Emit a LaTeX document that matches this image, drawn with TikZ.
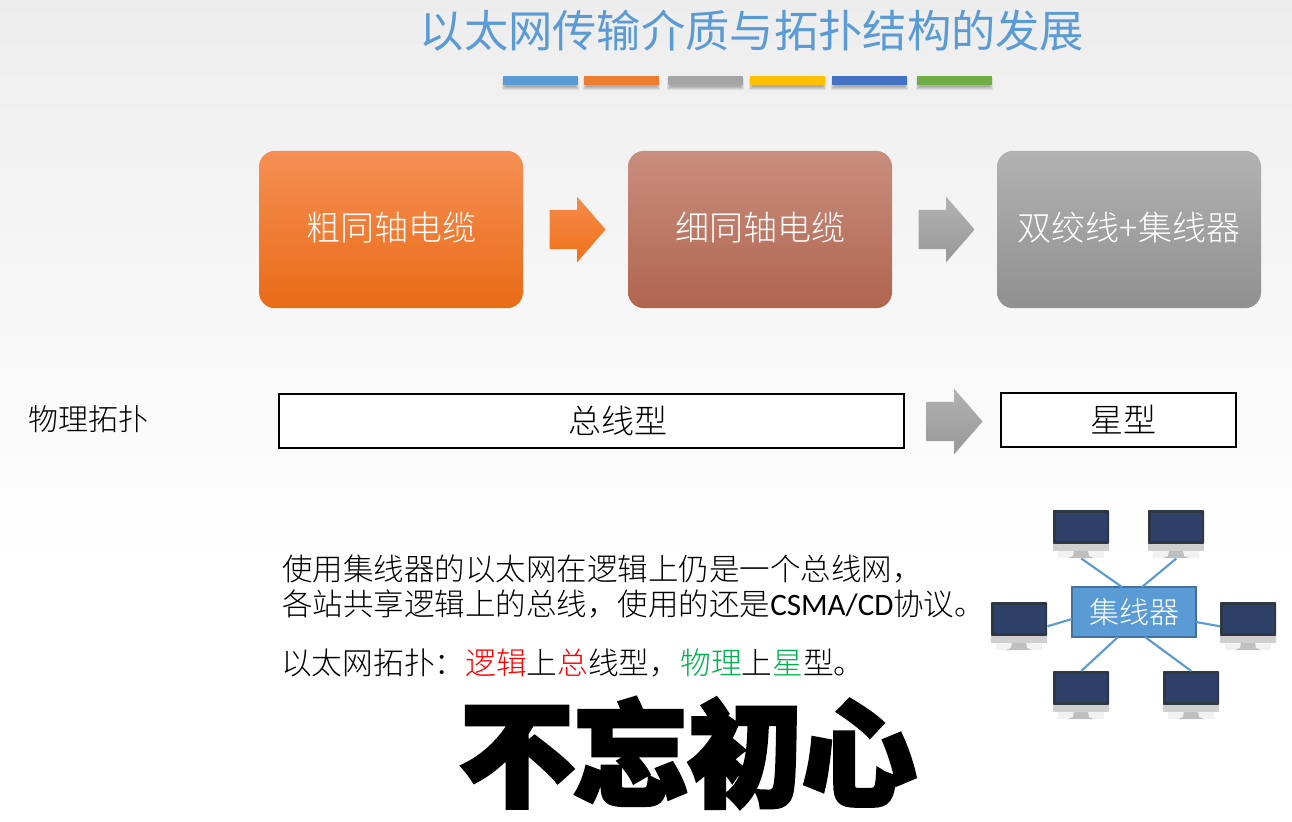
\documentclass[tikz,border=0pt]{standalone}
\usepackage{fontspec}
\usetikzlibrary{shapes.arrows}
\setmainfont{Carlito}
\newfontfamily\cjk{Noto Sans CJK SC Light}
\newfontfamily\cjkreg{Noto Sans CJK SC}
\newfontfamily\cjkblack{Noto Sans CJK SC Black}[FakeBold=4]
\newfontfamily\lat{Carlito}[Scale=1.02]
\newcommand{\px}[1]{\fontsize{\dimexpr#1pt*3/4\relax}{\dimexpr#1pt*9/10\relax}\selectfont}
\definecolor{titleblue}{HTML}{5B9BD5}
\definecolor{hubedge}{HTML}{41719C}
\definecolor{monframe}{HTML}{2F3742}
\definecolor{monscreen}{HTML}{2E4168}
\definecolor{barorange}{HTML}{ED7D31}
\definecolor{bargray}{HTML}{A5A5A5}
\definecolor{baryellow}{HTML}{FFC000}
\definecolor{barblue}{HTML}{4472C4}
\definecolor{bargreen}{HTML}{70AD47}
\definecolor{thicktop}{HTML}{F68F55}
\definecolor{thickbot}{HTML}{E96B15}
\definecolor{thintop}{HTML}{C98E7E}
\definecolor{thinbot}{HTML}{B0654F}
\definecolor{graytop}{HTML}{B2B2B2}
\definecolor{graybot}{HTML}{909090}
\definecolor{arrowtop}{HTML}{F58B4B}
\definecolor{arrowbot}{HTML}{EE7218}
\definecolor{arrowgtop}{HTML}{B2B2B2}
\definecolor{arrowgbot}{HTML}{989898}
\definecolor{textgreen}{HTML}{00B050}
\tikzset{
  x=0.75pt,y=-0.75pt,
  bigbox/.style={rounded corners=12pt,minimum width=198pt,minimum height=118pt,inner sep=0pt,text=white,font=\cjk\px{34}},
  outline/.style={draw=black,line width=1.5pt,fill=white,inner sep=0pt,font=\cjk\px{33}},
  blockarrow/.style={single arrow,draw=none,inner xsep=0pt,inner ysep=14.6pt,minimum width=48.75pt,minimum height=42pt,single arrow head extend=9.75pt,single arrow tip angle=98},
  bartop/.style={minimum width=56.25pt,minimum height=6.75pt,inner sep=0pt},
  barshadow/.style={fill=black,opacity=0.08},
  plain/.style={anchor=west,inner sep=0pt,font=\cjk\px{30.5}},
  hubline/.style={draw=titleblue,line width=1.6pt},
  monitornode/.style={minimum width=42pt,minimum height=36pt,inner sep=0pt}
}
\newcommand{\monitor}[3]{%
  \node[monitornode,anchor=north west] (#1) at (#2,#3) {};
  \fill[monframe,rounded corners=0.6pt] (#2,#3) rectangle ++(56,34);
  \fill[monscreen] (#2+2.5,#3+3) rectangle ++(51,28);
  \fill[black!19] (#2,#3+34) rectangle ++(56,7);
  \fill[black!5] (#2+5,#3+41) rectangle ++(46,7);
  \fill[black!25] (#2+21,#3+41) -- (#2+35,#3+41) -- (#2+36,#3+46) -- (#2+41,#3+48) -- (#2+15,#3+48) -- (#2+20,#3+46) -- cycle;
}
\newcommand{\colorbar}[3]{%
  \fill[barshadow] (#1-1,78) rectangle (#2+1,90);
  \fill[barshadow] (#1,79) rectangle (#2,89);
  \fill[barshadow] (#1+1,80) rectangle (#2-1,88);
  \fill[barshadow] (#1+2,81) rectangle (#2-2,87);
  \node[bartop,fill=#3,anchor=north west] (bar#1) at (#1,76) {};
}
\begin{document}
\begin{tikzpicture}
\useasboundingbox (0,0) rectangle (1292,821);
\fill[white] (0,0) rectangle (1292,821);
\shade[top color=black!7,bottom color=white] (0,0) rectangle (1292,570);

\node[inner sep=0pt,text=titleblue,font=\cjkreg\px{44.3}] (title) at (752,31) {以太网传输介质与拓扑结构的发展};
\colorbar{503}{578}{titleblue}
\colorbar{584}{659}{barorange}
\colorbar{668}{743}{bargray}
\colorbar{750}{825}{baryellow}
\colorbar{832}{907}{barblue}
\colorbar{917}{992}{bargreen}

\node[bigbox,top color=thicktop,bottom color=thickbot] (thick) at (391,229.5) {\raisebox{4.5pt}{粗同轴电缆}};
\node[bigbox,top color=thintop,bottom color=thinbot] (thin) at (760,229.5) {\raisebox{4.5pt}{细同轴电缆}};
\node[bigbox,top color=graytop,bottom color=graybot] (twisted) at (1129,229.5) {\raisebox{4.5pt}{双绞线+集线器}};
\node[blockarrow,top color=arrowtop,bottom color=arrowbot] (a1) at (569,229.5) {};
\node[blockarrow,top color=arrowgtop,bottom color=arrowgbot] (a2) at (938,229.5) {};

\node[plain,font=\cjk\px{30}] (phys) at (28,419) {物理拓扑};
\node[outline,minimum width=468.75pt,minimum height=40.5pt] (bus) at (591,421) {\hspace*{40.5pt}总线型};
\node[outline,minimum width=176.25pt,minimum height=40.5pt] (star) at (1118,420) {\hspace*{7.5pt}星型};
\node[blockarrow,top color=arrowgtop,bottom color=arrowgbot] (a3) at (946,421.5) {};

\node[plain] (l1) at (282,569) {使用集线器的以太网在逻辑上仍是一个总线网，};
\node[plain] (l2) at (282,604) {各站共享逻辑上的总线，使用的还是{\lat CSMA/CD}协议。};
\node[plain,font=\cjk\px{30.7}] (l3) at (281,663) {以太网拓扑：{\color{red}逻辑}上{\color{red}总}线型，{\color{textgreen}物理}上{\color{textgreen}星}型。};

\node[draw=hubedge,line width=1pt,fill=titleblue,minimum width=93pt,minimum height=37.5pt,inner sep=0pt,text=white,font=\cjk\px{30}] (hub) at (1134,612) {\raisebox{-3pt}{集线器}};
\monitor{m1}{1053}{510}
\monitor{m2}{1148}{510}
\monitor{m3}{991}{602}
\monitor{m4}{1220}{602}
\monitor{m5}{1053}{671}
\monitor{m6}{1163}{671}
\coordinate (h1) at (1122,587);
\coordinate (h2) at (1142,587);
\coordinate (h3) at (1072,619);
\coordinate (h4) at (1196,622);
\coordinate (h5) at (1118,637);
\coordinate (h6) at (1145,637);
\draw[hubline] (m1.south) -- (h1);
\draw[hubline] (m2.south) -- (h2);
\draw[hubline] (m3.east) -- (h3);
\draw[hubline] (m4.west) -- (h4);
\draw[hubline] (m5.north) -- (h5);
\draw[hubline] (m6.north) -- (h6);

\node[inner sep=0pt,text=black,font=\cjkblack\px{114}] (logo) at (688,753) {不忘初心};
\end{tikzpicture}
\end{document}
